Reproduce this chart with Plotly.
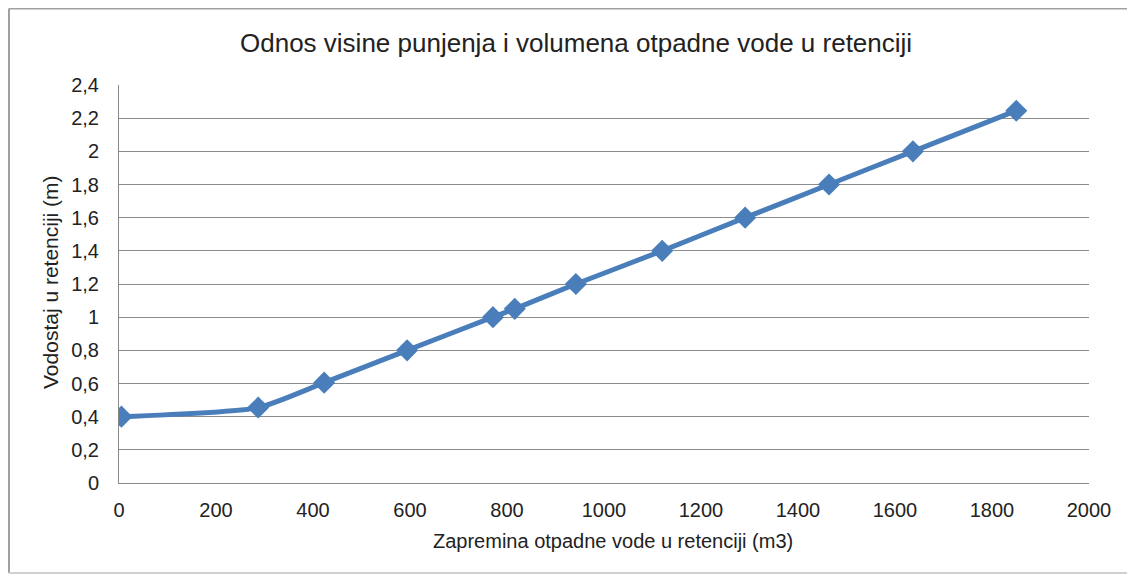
import plotly.graph_objects as go

volume_m3 = [5, 287, 423, 594, 771, 816, 942, 1120, 1291, 1464, 1637, 1850]
level_m = [0.40, 0.455, 0.605, 0.80, 1.00, 1.05, 1.20, 1.40, 1.60, 1.80, 2.00, 2.245]

x_ticks = list(range(0, 2001, 200))
y_ticks = [round(i * 0.2, 1) for i in range(13)]
y_tick_labels = [("%g" % v).replace(".", ",") for v in y_ticks]

title = "Odnos visine punjenja i volumena otpadne vode u retenciji"
x_title = "Zapremina otpadne vode u retenciji (m3)"
y_title = "Vodostaj u retenciji (m)"

OFF = 8  # page body margin
W, H = 1135 - OFF, 576 - OFF
L, T = 119 - OFF, 85 - OFF
pw, ph = 970, 398
R, B = W - L - pw, H - T - ph

def px_x(p):  # figure pixel -> paper x
    return (p - L) / pw

def px_y(p):  # figure pixel -> paper y
    return (T + ph - p) / ph

fig = go.Figure()
fig.add_trace(go.Scatter(
    x=volume_m3, y=level_m, mode="lines+markers",
    line=dict(color="#4a7ebb", width=5, shape="spline", smoothing=0.6),
    marker=dict(symbol="diamond", size=17, color="#4a7ebb"),
    showlegend=False,
))

font = "Liberation Sans, Arial, sans-serif"
fig.update_layout(
    width=W, height=H,
    margin=dict(l=L, r=R, t=T, b=B, autoexpand=False),
    paper_bgcolor="white", plot_bgcolor="white",
    font=dict(family=font, color="#222222"),
    xaxis=dict(range=[0, 2000], tickvals=x_ticks, ticktext=[str(v) for v in x_ticks],
               showgrid=False, zeroline=False, showline=True, linecolor="#888888", linewidth=1,
               ticks="", tickfont=dict(size=20), ticklabelstandoff=9, automargin=False),
    yaxis=dict(range=[0, 2.4], tickvals=y_ticks, ticktext=y_tick_labels,
               showgrid=True, gridcolor="#8c8c8c", gridwidth=1, zeroline=False,
               showline=True, linecolor="#888888", linewidth=1, ticks="",
               tickfont=dict(size=20), ticklabelstandoff=15, automargin=False),
    annotations=[
        dict(text=title, xref="paper", yref="paper", x=px_x(576 - OFF), y=px_y(43 - OFF),
             xanchor="center", yanchor="middle", showarrow=False,
             font=dict(size=26, family=font, color="#222222")),
        dict(text=x_title, xref="paper", yref="paper", x=px_x(613 - OFF), y=px_y(541 - OFF),
             xanchor="center", yanchor="middle", showarrow=False,
             font=dict(size=20, family=font, color="#222222")),
        dict(text=y_title, xref="paper", yref="paper", x=px_x(50 - OFF), y=px_y(282 - OFF),
             xanchor="center", yanchor="middle", showarrow=False, textangle=-90,
             font=dict(size=21, family=font, color="#222222")),
    ],
)

# outer chart border: top, left and bottom edges only (open on the right)
border = dict(color="#a0a0a0", width=2)
fig.add_shape(type="line", xref="paper", yref="paper",
              x0=px_x(1), x1=px_x(W), y0=px_y(0.5), y1=px_y(0.5), line=border, layer="below")
fig.add_shape(type="line", xref="paper", yref="paper",
              x0=px_x(1), x1=px_x(1), y0=px_y(0.5), y1=px_y(565), line=border, layer="below")
fig.add_shape(type="line", xref="paper", yref="paper",
              x0=px_x(1), x1=px_x(W), y0=px_y(565), y1=px_y(565),
              line=dict(color="#d0d0d0", width=2), layer="below")

fig.write_html("out.html")
